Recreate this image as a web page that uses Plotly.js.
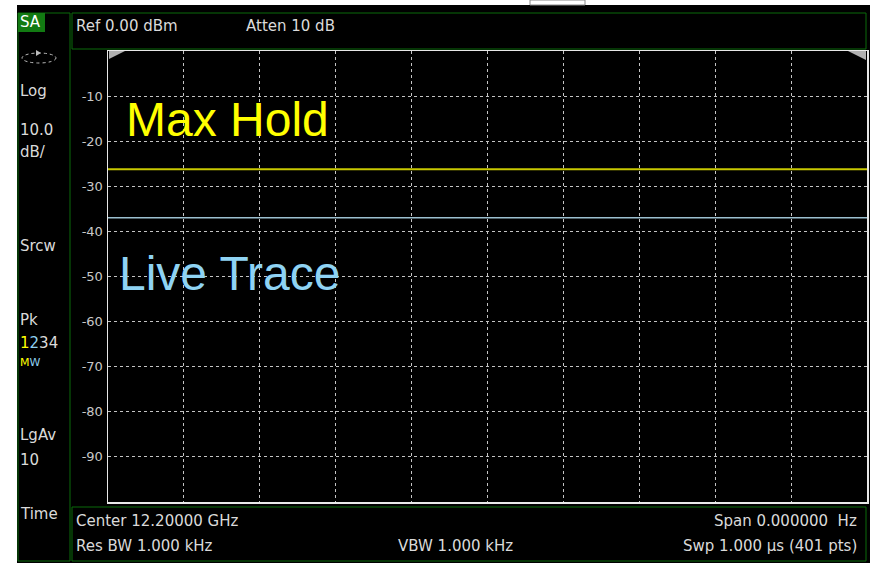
<!DOCTYPE html>
<html><head><meta charset="utf-8">
<script src="https://cdn.plot.ly/plotly-3.0.1.min.js"></script>
<style>html,body{margin:0;padding:0;background:#fff}#c{width:873px;height:563px}</style>
</head><body><div id="c"></div>
<script>
// ---- data ----
var sweepX = [0, 400];                 // 401 pts sweep, start/end index
var maxHoldDb = [-26.2, -26.2];
var liveTraceDb = [-37.0, -37.0];
var yTickVals = [-10, -20, -30, -40, -50, -60, -70, -80, -90];
var yTickText = ["-10", "-20", "-30", "-40", "-50", "-60", "-70", "-80", "-90"];
var seriesNames = ["Max Hold", "Live Trace"];

var W = 873, H = 563;
function px(x){return x/W;}
function py(y){return 1 - y/H;}
var G = '#0b6b0b';
var TXT = '#dadada';
var F = 'DejaVu Sans, sans-serif';

function rect(x0,y0,x1,y1,fill,line,layer){
  return {type:'rect',xref:'paper',yref:'paper',x0:px(x0),x1:px(x1),y0:py(y0),y1:py(y1),
    fillcolor:fill||'rgba(0,0,0,0)',line:{color:line||'rgba(0,0,0,0)',width:line?1:0},layer:layer||'above'};
}
function txt(x,y,t,opt){
  opt=opt||{};
  return {xref:'paper',yref:'paper',x:px(x),y:py(y),text:t,showarrow:false,
    xanchor:opt.xa||'left',yanchor:'middle',font:{family:opt.f||F,size:opt.s||15,color:opt.c||TXT}};
}

var shapes = [
  rect(17,5,870,563,'#000000',null,'below'),
  rect(18,13,70,561,null,G),
  rect(18,13,45,32,'#127a12',null),
  rect(72,13,866,49,null,G),
  rect(72,507,866,561,null,G),
  {type:'circle',xref:'paper',yref:'paper',x0:px(22),x1:px(56),y0:py(53),y1:py(63),line:{color:'#bbbbbb',width:1,dash:'dot'}},
  {type:'path',xref:'paper',yref:'paper',path:'M '+px(36)+','+py(50)+' L '+px(41)+','+py(53)+' L '+px(36)+','+py(56)+' Z',fillcolor:'#bbbbbb',line:{width:0}},
  {type:'path',xref:'paper',yref:'paper',path:'M '+px(109)+','+py(51)+' L '+px(125)+','+py(51)+' L '+px(109)+','+py(59)+' Z',fillcolor:'#b0b0b0',line:{width:0}},
  {type:'path',xref:'paper',yref:'paper',path:'M '+px(848)+','+py(51)+' L '+px(866)+','+py(51)+' L '+px(866)+','+py(60)+' Z',fillcolor:'#b0b0b0',line:{width:0}},
  rect(530,0,585,5,null,'#888888')
];

var ann = [
  {xref:'paper',yref:'paper',x:px(18),y:py(22.5),text:'SA',showarrow:false,xanchor:'left',yanchor:'middle',font:{family:F,size:15,color:'#ffffff'}},
  txt(18,91,'Log'),
  txt(18,130,'10.0'),
  txt(18,152,'dB/'),
  txt(18,246,'Srcw'),
  txt(18,320,'Pk'),
  txt(18,343,'<span style="color:#ffff00">1</span><span style="color:#8fd0f0">2</span><span style="color:#dadada">34</span>'),
  txt(18,362,'<span style="color:#ffff00">M</span><span style="color:#8fd0f0">W</span>',{s:11}),
  txt(18,435,'LgAv'),
  txt(18,460,'10'),
  txt(18,514,'Time'),
  txt(74,26,'Ref 0.00 dBm'),
  txt(244,26,'Atten 10 dB'),
  txt(74,521,'Center 12.20000 GHz'),
  txt(74,546,'Res BW 1.000 kHz'),
  txt(396,546,'VBW 1.000 kHz'),
  txt(859,521,'Span 0.000000&nbsp; Hz',{xa:'right'}),
  txt(859,546,'Swp 1.000 µs (401 pts)',{xa:'right'}),
  {xref:'paper',yref:'paper',x:px(124),y:py(119),text:seriesNames[0],showarrow:false,xanchor:'left',yanchor:'middle',font:{family:'Liberation Sans, Arial, sans-serif',size:48,color:'#ffff00'}},
  {xref:'paper',yref:'paper',x:px(117),y:py(273),text:seriesNames[1],showarrow:false,xanchor:'left',yanchor:'middle',font:{family:'Liberation Sans, Arial, sans-serif',size:48,color:'#8fd3f3'}}
];

var traces = [
  {x:sweepX,y:maxHoldDb,mode:'lines',name:seriesNames[0],line:{color:'#c8c800',width:2},hoverinfo:'skip'},
  {x:sweepX,y:liveTraceDb,mode:'lines',name:seriesNames[1],line:{color:'#9cc0d0',width:1.5},hoverinfo:'skip'}
];

var layout = {
  width:W,height:H,margin:{l:0,r:0,t:0,b:0},
  paper_bgcolor:'#ffffff',plot_bgcolor:'#000000',showlegend:false,
  xaxis:{domain:[px(108),px(867)],range:[0,400],dtick:40,tick0:0,showticklabels:false,ticks:'',
    showgrid:true,gridcolor:'#c4c4c4',gridwidth:1,griddash:'dot',zeroline:false,
    showline:true,linecolor:'#e8e8e8',linewidth:1.5,mirror:true,fixedrange:true},
  yaxis:{domain:[py(502),py(51)],range:[-100,0],tickmode:'array',tickvals:yTickVals,ticktext:yTickText,
    ticks:'',ticklabelstandoff:1,tickfont:{family:F,size:13,color:'#c8c8c8'},
    showgrid:true,gridcolor:'#c4c4c4',gridwidth:1,griddash:'dot',zeroline:false,
    showline:true,linecolor:'#e8e8e8',linewidth:1.5,mirror:true,fixedrange:true},
  shapes:shapes,annotations:ann
};
Plotly.newPlot('c',traces,layout,{displayModeBar:false,staticPlot:true});
</script></body></html>
